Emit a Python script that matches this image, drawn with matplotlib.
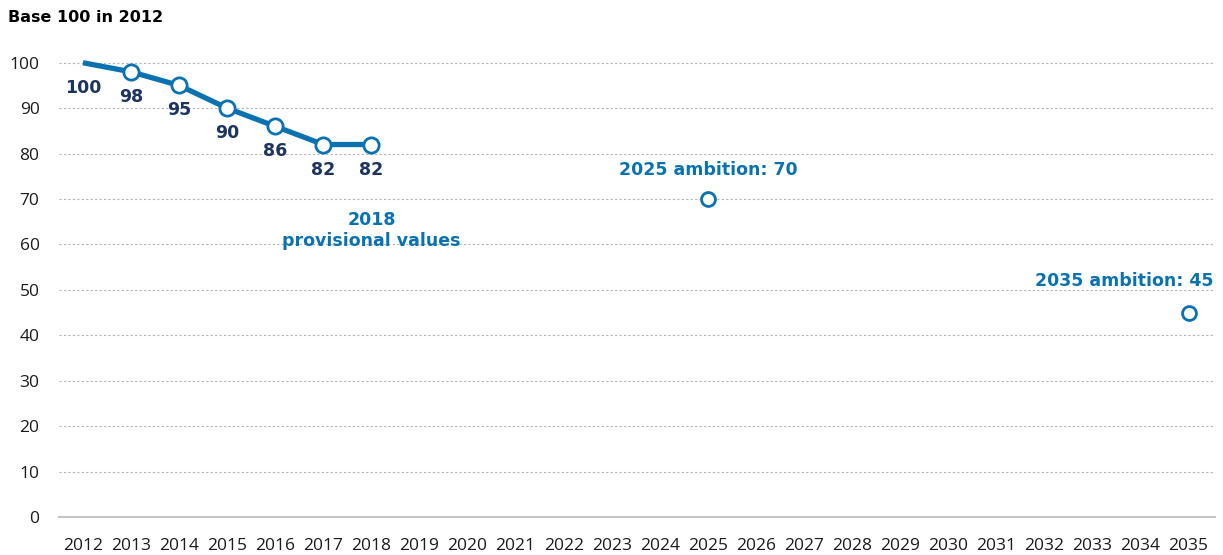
import matplotlib.pyplot as plt

# index, base 100 in 2012
years = [2012, 2013, 2014, 2015, 2016, 2017, 2018]
values = [100, 98, 95, 90, 86, 82, 82]
labels = ["100", "98", "95", "90", "86", "82", "82"]

ambition_years = [2025, 2035]
ambition_values = [70, 45]
ambition_labels = ["2025 ambition: 70", "2035 ambition: 45"]

x_ticks = list(range(2012, 2036))
y_ticks = list(range(0, 101, 10))

BLUE = "#0a72b0"
NAVY = "#1d3461"
TXT = "#1a1a1a"
BOLD = ["DejaVu Sans"]

plt.rcParams["font.family"] = ["Open Sans", "DejaVu Sans"]

fig = plt.figure(figsize=(12.23, 5.55), dpi=100)
ax = fig.add_axes([0.0482, 0.0685, 0.9453, 0.843])

ax.plot(years, values, color=BLUE, lw=3.8, marker="o", markevery=range(1, len(years)),
        ms=11, mfc="white", mec=BLUE, mew=2, solid_capstyle="butt", zorder=3)
for x, y, s in zip(years, values, labels):
    ax.annotate(s, (x, y), xytext=(0, -18), textcoords="offset points",
                ha="center", va="center", fontsize=12.5, fontweight="bold",
                color=NAVY, family=BOLD)

ax.plot(ambition_years, ambition_values, ls="none", marker="o", ms=10,
        mfc="white", mec=BLUE, mew=2, zorder=3)
ax.annotate(ambition_labels[0], (ambition_years[0], ambition_values[0]), xytext=(0, 21),
            textcoords="offset points", ha="center", va="center",
            fontsize=12.5, fontweight="bold", color=BLUE, family=BOLD)
ax.annotate(ambition_labels[1], (ambition_years[1], ambition_values[1]), xytext=(18, 23),
            textcoords="offset points", ha="right", va="center",
            fontsize=12.5, fontweight="bold", color=BLUE, family=BOLD)

ax.annotate("2018\nprovisional values", (years[-1], values[-1]), xytext=(0, -62),
            textcoords="offset points", ha="center", va="center", linespacing=1.25,
            fontsize=12.5, fontweight="bold", color=BLUE, family=BOLD)

ax.set_xlim(2011.5, 2035.55)
ax.set_ylim(0, 103)
ax.set_xticks(x_ticks)
ax.set_yticks(y_ticks)
ax.tick_params(axis="both", length=0, labelsize=12.5, labelcolor=TXT)
ax.tick_params(axis="y", pad=14)
ax.tick_params(axis="x", pad=15)

ax.grid(axis="y", ls=(0, (2, 2)), color="#b4b4b4", lw=0.8)
ax.set_axisbelow(True)
for side in ["top", "right", "left"]:
    ax.spines[side].set_visible(False)
ax.spines["bottom"].set_color("#c4c4c4")
ax.spines["bottom"].set_linewidth(1.5)

fig.text(0.0065, 0.969, "Base 100 in 2012", ha="left", va="center",
         fontsize=11.5, fontweight="bold", color="black", family=BOLD)

fig.savefig("out.png", dpi=100)
